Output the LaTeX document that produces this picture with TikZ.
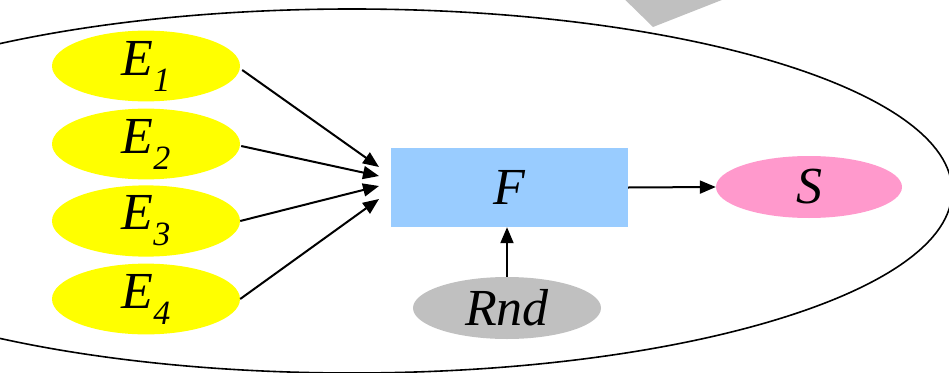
\documentclass[tikz,border=0pt]{standalone}
\usepackage{xcolor}
\usepackage{fontspec}
\setmainfont{Liberation Serif}[ItalicFont={Liberation Serif Italic}]
\usepackage{tikz}
\usetikzlibrary{arrows.meta,shapes.geometric}

\definecolor{eyellow}{RGB}{255,255,0}
\definecolor{fblue}{RGB}{153,204,255}
\definecolor{spink}{RGB}{255,153,204}
\definecolor{rgrey}{RGB}{192,192,192}

\newcommand{\esub}[1]{\textit{E}\raisebox{-16pt}{\fontsize{34}{34}\selectfont\itshape #1}}

\begin{document}
\begin{tikzpicture}[x=1pt,y=-1pt,
  lbl/.style={font=\fontsize{52}{52}\selectfont\rmfamily\itshape, inner sep=0pt},
  blob/.style={lbl, ellipse, minimum width=188pt, minimum height=62pt},
  arr/.style={line width=2pt, -{Triangle[length=16pt,width=13pt]}}]
\useasboundingbox (0,0) rectangle (949,372);
% grey tip at the top and the outer ellipse
\fill[rgrey] (610,-15) -- (653,27) -- (760,-15) -- cycle;
\draw[line width=1.6pt] (352,191) ellipse [x radius=600pt, y radius=182pt];
% inputs
\node[blob, fill=eyellow] (e1) at (146,66) {\esub{1}};
\node[blob, fill=eyellow] (e2) at (146,144) {\esub{2}};
\node[blob, fill=eyellow] (e3) at (146,221) {\esub{3}};
\node[blob, fill=eyellow] (e4) at (146,299) {\esub{4}};
% function, seed and result
\node[lbl, fill=fblue, minimum width=237pt, minimum height=79pt] (f) at (509.5,187.5) {F};
\node[blob, fill=spink, minimum width=186pt] (s) at (809,187) {S};
\node[blob, fill=rgrey] (rnd) at (507,308) {Rnd};
\coordinate (a1) at (379,167);
\coordinate (a2) at (379,176);
\coordinate (a3) at (379,186);
\coordinate (a4) at (379,199);
\draw[arr] (e1.east) ++(2,4) -- (a1);
\draw[arr] (e2.east) ++(1,2) -- (a2);
\draw[arr] (e3.east) -- (a3);
\draw[arr] (e4.east) -- (a4);
\draw[arr] (f.east) -- (s.west);
\draw[arr] (rnd.north) -- (rnd.north |- f.south);
\end{tikzpicture}
\end{document}
